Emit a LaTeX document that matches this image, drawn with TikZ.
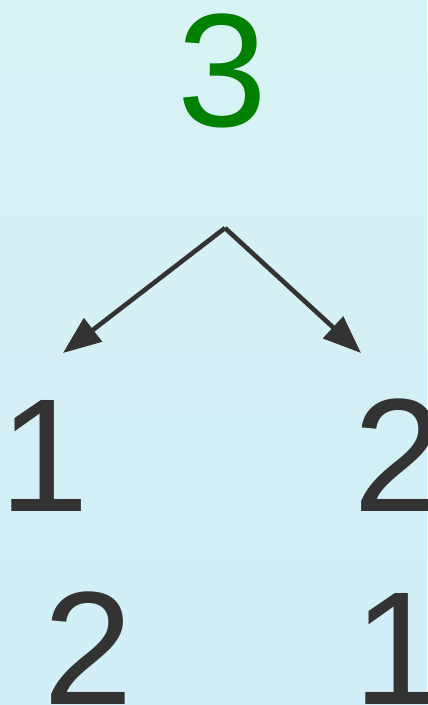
\documentclass[tikz,border=0pt]{standalone}
\usepackage{fontspec}
\setmainfont{Liberation Sans}
\usetikzlibrary{arrows.meta}
\definecolor{bgtop}{RGB}{216,243,243}
\definecolor{bgbot}{RGB}{209,238,249}
\definecolor{ink}{RGB}{51,51,51}
\definecolor{topgreen}{RGB}{0,128,0}
\begin{document}
\begin{tikzpicture}[x=1bp,y=1bp,
  digit/.style={inner sep=0pt,anchor=base,font=\fontsize{162}{162}\selectfont,text=ink},
  arr/.style={draw=ink,line width=4.6bp,-{Triangle[length=38bp,width=29bp]}}]
\shade[top color=bgtop,bottom color=bgbot] (0,0) rectangle (427,-705);
\useasboundingbox (0,0) rectangle (427,-705);
\node[digit,text=topgreen] (three) at (222,-127) {3};
\node[digit] (oneA) at (44.5,-511) {1};
\node[digit] (twoA) at (398,-511) {2};
\node[digit] (twoB) at (88,-704) {2};
\node[digit] (oneB) at (398.5,-704) {1};
\coordinate (apex) at (225,-228);
\coordinate (tipL) at (63,-353);
\coordinate (tipR) at (361,-353);
\draw[arr] (apex) -- (tipL);
\draw[arr] (apex) -- (tipR);
\end{tikzpicture}
\end{document}
